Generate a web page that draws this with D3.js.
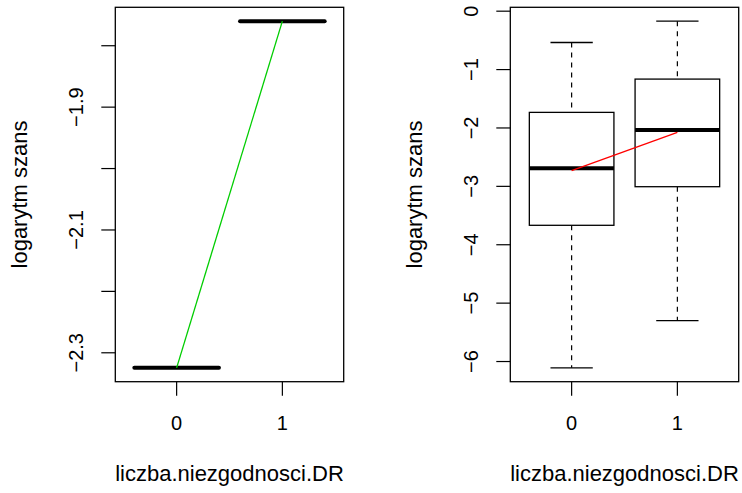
<!DOCTYPE html>
<html>
<head>
<meta charset="utf-8">
<script src="https://d3js.org/d3.v7.min.js"></script>
<style>
  body { margin: 0; background: #fff; }
  svg text { font-family: "Liberation Sans", Arial, sans-serif; font-size: 20px; fill: #000; }
  svg text.title { font-size: 22px; }
</style>
</head>
<body>
<script>
// left panel: one value per group
var groups = ["0", "1"];
var leftValues = [-2.3245, -1.760];
var leftTicks = [-2.3, -2.2, -2.1, -2.0, -1.9, -1.8];
var leftLabelled = [-2.3, -2.1, -1.9];

// right panel: boxplot stats per group
var whiskLow = [-6.108, -5.299];
var q1 = [-3.667, -3.006];
var median = [-2.692, -2.036];
var q3 = [-1.733, -1.163];
var whiskHigh = [-0.536, -0.171];
var meanLine = [-2.732, -2.075];
var rightTicks = [0, -1, -2, -3, -4, -5, -6];

var xTitle = "liczba.niezgodnosci.DR";
var yTitle = "logarytm szans";

var svg = d3.select("body").append("svg")
    .attr("width", 742)
    .attr("height", 493);

var plotTop = 7.3, plotBottom = 381.7;
var fmt = function (s) { return s.replace("-", "\u2212"); };

function pad(ext) {
    var r = ext[1] - ext[0];
    return [ext[0] - 0.04 * r, ext[1] + 0.04 * r];
}

function panel(left, right, yDomain, ticks, labelled, labelFmt) {
    var g = svg.append("g");
    var x = d3.scaleLinear().domain([-0.58, 1.58]).range([left, right]);
    var y = d3.scaleLinear().domain(yDomain).range([plotBottom, plotTop]);

    g.append("rect")
        .attr("x", left).attr("y", plotTop)
        .attr("width", right - left).attr("height", plotBottom - plotTop)
        .attr("fill", "none").attr("stroke", "#000").attr("stroke-width", 1.3);

    // y axis ticks
    g.selectAll(".yt").data(ticks).enter().append("line")
        .attr("x1", left - 14).attr("x2", left)
        .attr("y1", function (d) { return y(d); })
        .attr("y2", function (d) { return y(d); })
        .attr("stroke", "#000").attr("stroke-width", 1.2);
    g.selectAll(".yl").data(labelled).enter().append("text")
        .attr("text-anchor", "middle")
        .attr("transform", function (d) { return "translate(" + (left - 32) + "," + y(d) + ") rotate(-90)"; })
        .text(labelFmt);

    // x axis ticks
    g.selectAll(".xt").data(groups).enter().append("line")
        .attr("x1", function (d, i) { return x(i); })
        .attr("x2", function (d, i) { return x(i); })
        .attr("y1", plotBottom).attr("y2", plotBottom + 14)
        .attr("stroke", "#000").attr("stroke-width", 1.2);
    g.selectAll(".xl").data(groups).enter().append("text")
        .attr("text-anchor", "middle")
        .attr("x", function (d, i) { return x(i); })
        .attr("y", 430)
        .text(function (d) { return d; });

    g.append("text")
        .attr("class", "title")
        .attr("text-anchor", "middle")
        .attr("x", (left + right) / 2).attr("y", 481)
        .text(xTitle);
    g.append("text")
        .attr("class", "title")
        .attr("text-anchor", "middle")
        .attr("transform", "translate(" + (left - 88) + "," + ((plotTop + plotBottom) / 2) + ") rotate(-90)")
        .text(yTitle);

    return { g: g, x: x, y: y };
}

// left panel
var yl = pad(d3.extent(leftValues));
var L = panel(115.3, 343.7, yl, leftTicks, leftLabelled, function (d) { return fmt(d3.format(".1f")(d)); });

L.g.selectAll(".seg").data(leftValues).enter().append("line")
    .attr("x1", function (d, i) { return L.x(i - 0.4); })
    .attr("x2", function (d, i) { return L.x(i + 0.4); })
    .attr("y1", function (d) { return L.y(d); })
    .attr("y2", function (d) { return L.y(d); })
    .attr("stroke", "#000").attr("stroke-width", 4).attr("stroke-linecap", "round");

L.g.append("path")
    .datum(leftValues)
    .attr("d", d3.line().x(function (d, i) { return L.x(i); }).y(function (d) { return L.y(d); }))
    .attr("fill", "none").attr("stroke", "#00cd00").attr("stroke-width", 1.3);

// right panel
var yr = pad([d3.min(whiskLow), d3.max(whiskHigh)]);
var R = panel(510.3, 738.7, yr, rightTicks, rightTicks, function (d) { return fmt(String(d)); });

var stats = groups.map(function (k, i) {
    return { i: i, lo: whiskLow[i], q1: q1[i], med: median[i], q3: q3[i], hi: whiskHigh[i] };
});

var box = R.g.selectAll(".box").data(stats).enter().append("g");

// whiskers
box.append("line")
    .attr("x1", function (d) { return R.x(d.i); }).attr("x2", function (d) { return R.x(d.i); })
    .attr("y1", function (d) { return R.y(d.hi); }).attr("y2", function (d) { return R.y(d.q3); })
    .attr("stroke", "#000").attr("stroke-width", 1.2).attr("stroke-dasharray", "5,5");
box.append("line")
    .attr("x1", function (d) { return R.x(d.i); }).attr("x2", function (d) { return R.x(d.i); })
    .attr("y1", function (d) { return R.y(d.q1); }).attr("y2", function (d) { return R.y(d.lo); })
    .attr("stroke", "#000").attr("stroke-width", 1.2).attr("stroke-dasharray", "5,5");
// caps
["lo", "hi"].forEach(function (k) {
    box.append("line")
        .attr("x1", function (d) { return R.x(d.i - 0.2); }).attr("x2", function (d) { return R.x(d.i + 0.2); })
        .attr("y1", function (d) { return R.y(d[k]); }).attr("y2", function (d) { return R.y(d[k]); })
        .attr("stroke", "#000").attr("stroke-width", 1.3);
});
// box
box.append("rect")
    .attr("x", function (d) { return R.x(d.i - 0.4); })
    .attr("width", function (d) { return R.x(d.i + 0.4) - R.x(d.i - 0.4); })
    .attr("y", function (d) { return R.y(d.q3); })
    .attr("height", function (d) { return R.y(d.q1) - R.y(d.q3); })
    .attr("fill", "#fff").attr("stroke", "#000").attr("stroke-width", 1.3);
// median
box.append("line")
    .attr("x1", function (d) { return R.x(d.i - 0.4); }).attr("x2", function (d) { return R.x(d.i + 0.4); })
    .attr("y1", function (d) { return R.y(d.med); }).attr("y2", function (d) { return R.y(d.med); })
    .attr("stroke", "#000").attr("stroke-width", 4);

R.g.append("path")
    .datum(meanLine)
    .attr("d", d3.line().x(function (d, i) { return R.x(i); }).y(function (d) { return R.y(d); }))
    .attr("fill", "none").attr("stroke", "#ff0000").attr("stroke-width", 1.3);
</script>
</body>
</html>
